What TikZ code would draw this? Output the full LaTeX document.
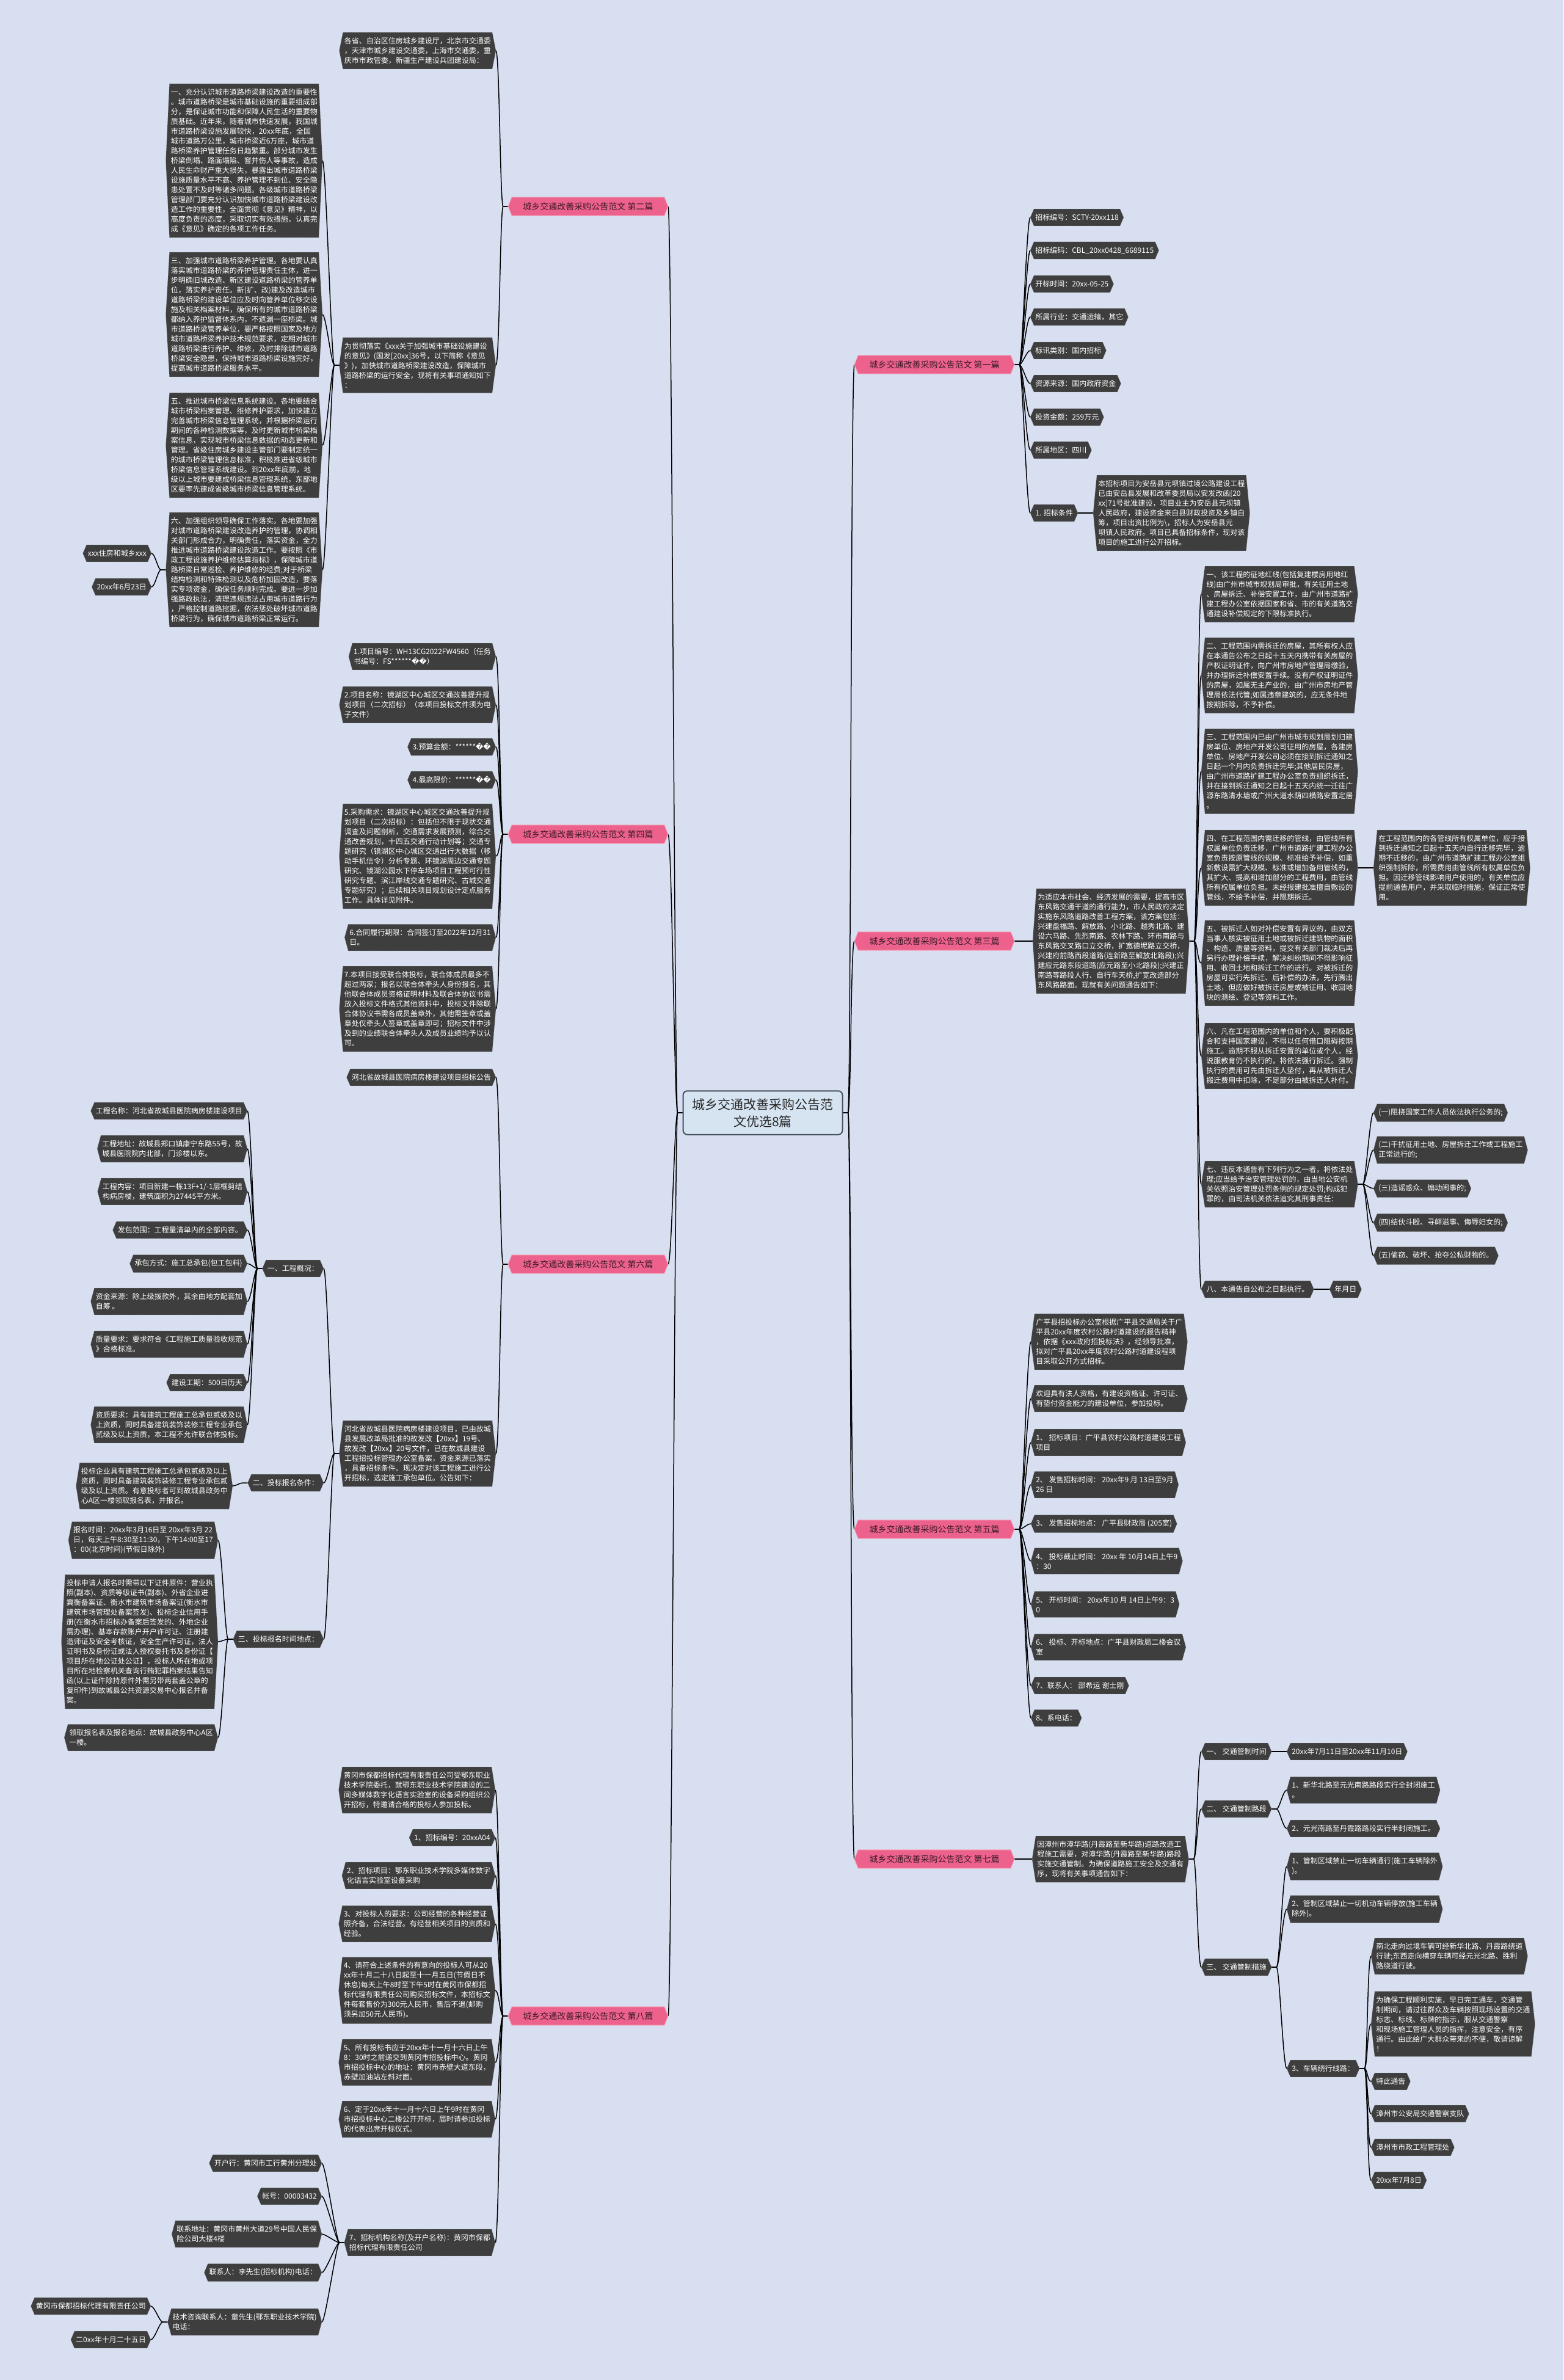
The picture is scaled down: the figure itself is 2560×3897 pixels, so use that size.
\documentclass[tikz,border=0pt]{standalone}
\usepackage{fontspec}
\setmainfont{Noto Sans CJK SC}
\newfontfamily\djv{DejaVu Sans}
\definecolor{bgc}{RGB}{215,223,241}
\definecolor{boxc}{RGB}{62,62,62}
\definecolor{boxb}{RGB}{150,150,150}
\definecolor{pinkc}{RGB}{236,98,140}
\definecolor{pinkb}{RGB}{246,168,192}
\definecolor{pinkt}{RGB}{60,25,40}
\definecolor{rootf}{RGB}{214,228,242}
\definecolor{rootb}{RGB}{70,80,92}
\makeatletter
\newdimen\hxL \newdimen\hxR \newdimen\hxT \newdimen\hxB \newdimen\hxM \newdimen\hxLi \newdimen\hxRi
\pgfdeclareshape{hexbox}{%
  \inheritsavedanchors[from=rectangle]%
  \inheritanchorborder[from=rectangle]%
  \inheritanchor[from=rectangle]{center}%
  \inheritanchor[from=rectangle]{mid}%
  \inheritanchor[from=rectangle]{base}%
  \inheritanchor[from=rectangle]{north}%
  \inheritanchor[from=rectangle]{south}%
  \inheritanchor[from=rectangle]{east}%
  \inheritanchor[from=rectangle]{west}%
  \inheritanchor[from=rectangle]{north east}%
  \inheritanchor[from=rectangle]{north west}%
  \inheritanchor[from=rectangle]{south east}%
  \inheritanchor[from=rectangle]{south west}%
  \backgroundpath{%
    \southwest \hxL=\pgf@x \hxB=\pgf@y
    \northeast \hxR=\pgf@x \hxT=\pgf@y
    \hxM=.5\hxB \advance\hxM by .5\hxT
    \hxLi=\hxL \advance\hxLi by 6pt
    \hxRi=\hxR \advance\hxRi by -6pt
    \pgfpathmoveto{\pgfqpoint{\hxL}{\hxM}}%
    \pgfpathlineto{\pgfqpoint{\hxLi}{\hxT}}%
    \pgfpathlineto{\pgfqpoint{\hxRi}{\hxT}}%
    \pgfpathlineto{\pgfqpoint{\hxR}{\hxM}}%
    \pgfpathlineto{\pgfqpoint{\hxRi}{\hxB}}%
    \pgfpathlineto{\pgfqpoint{\hxLi}{\hxB}}%
    \pgfpathclose
  }%
}
\makeatother
\pgfdeclarelayer{bgl}\pgfdeclarelayer{lines}\pgfsetlayers{bgl,lines,main}
\newcommand\fsN{\fontsize{12pt}{16pt}\selectfont}
\newcommand\fsP{\fontsize{14pt}{17pt}\selectfont}
\newcommand\fsC{\fontsize{21pt}{28pt}\selectfont}
\newcommand\rpc{{\djv ^^^^fffd}}
\tikzset{
  box/.style={shape=hexbox, fill=boxc, draw=boxb, line width=0.5pt, densely dotted, text=white, font=\fsN, align=left, inner xsep=8pt, inner ysep=8pt},
  pinkbox/.style={shape=hexbox, fill=pinkc, draw=pinkb, line width=1pt, text=pinkt, font=\fsP, inner xsep=24pt, inner ysep=8pt},
  rootbox/.style={rectangle, rounded corners=7pt, fill=rootf, draw=rootb, line width=2pt, text=black!85, font=\fsC, align=center, inner xsep=15pt, inner ysep=12pt},
  link/.style={draw=black, line width=1.5pt, solid},
}
\newcommand\bxl[4]{\node[box,anchor=east] (#1) at (#2,#3) {#4};}
\newcommand\bxr[4]{\node[box,anchor=west] (#1) at (#2,#3) {#4};}
\newcommand\lnk[2]{\draw[link] (#1.west) -- ++(-8,0) .. controls +(-5,0) and +(6,0) .. (#2.east);}
\newcommand\rnk[2]{\draw[link] (#1.east) -- ++(8,0) .. controls +(5,0) and +(-6,0) .. (#2.west);}
\begin{document}
\begin{tikzpicture}[x=1pt,y=-1pt]
\begin{pgfonlayer}{bgl}
\fill[bgc] (0,0) rectangle (2560,3897);
\end{pgfonlayer}
\useasboundingbox (0,0) rectangle (2560,3897);

\node[rootbox] (c) at (1249,1822) {城乡交通改善采购公告范\\文优选8篇};

% ---------- left pinks
\node[pinkbox,anchor=east] (p2) at (1094,338) {城乡交通改善采购公告范文 第二篇};
\node[pinkbox,anchor=east] (p4) at (1094,1366) {城乡交通改善采购公告范文 第四篇};
\node[pinkbox,anchor=east] (p6) at (1094,2070) {城乡交通改善采购公告范文 第六篇};
\node[pinkbox,anchor=east] (p8) at (1094,3301) {城乡交通改善采购公告范文 第八篇};
% ---------- right pinks
\node[pinkbox,anchor=west] (p1) at (1399,597) {城乡交通改善采购公告范文 第一篇};
\node[pinkbox,anchor=west] (p3) at (1399,1541) {城乡交通改善采购公告范文 第三篇};
\node[pinkbox,anchor=west] (p5) at (1399,2504) {城乡交通改善采购公告范文 第五篇};
\node[pinkbox,anchor=west] (p7) at (1399,3044) {城乡交通改善采购公告范文 第七篇};

% ---------- 第二篇
\bxl{f1}{812}{83}{各省、自治区住房城乡建设厅，北京市交通委\\，天津市城乡建设交通委，上海市交通委，重\\庆市市政管委，新疆生产建设兵团建设局：}
\bxl{f2}{812}{598}{为贯彻落实《xxx关于加强城市基础设施建设\\的意见》(国发[20xx]36号，以下简称《意见\\》)，加快城市道路桥梁建设改造，保障城市\\道路桥梁的运行安全，现将有关事项通知如下\\：}
\bxl{f3}{528}{263}{一、充分认识城市道路桥梁建设改造的重要性\\。城市道路桥梁是城市基础设施的重要组成部\\分，是保证城市功能和保障人民生活的重要物\\质基础。近年来，随着城市快速发展，我国城\\市道路桥梁设施发展较快，20xx年底，全国\\城市道路万公里，城市桥梁近6万座，城市道\\路桥梁养护管理任务日趋繁重。部分城市发生\\桥梁倒塌、路面塌陷、窨井伤人等事故，造成\\人民生命财产重大损失，暴露出城市道路桥梁\\设施质量水平不高、养护管理不到位、安全隐\\患处置不及时等诸多问题。各级城市道路桥梁\\管理部门要充分认识加快城市道路桥梁建设改\\造工作的重要性，全面贯彻《意见》精神，以\\高度负责的态度，采取切实有效措施，认真完\\成《意见》确定的各项工作任务。}
\bxl{f4}{528}{515}{三、加强城市道路桥梁养护管理。各地要认真\\落实城市道路桥梁的养护管理责任主体，进一\\步明确旧城改造、新区建设道路桥梁的管养单\\位，落实养护责任。新(扩、改)建及改造城市\\道路桥梁的建设单位应及时向管养单位移交设\\施及相关档案材料，确保所有的城市道路桥梁\\都纳入养护监督体系内，不遗漏一座桥梁。城\\市道路桥梁管养单位，要严格按照国家及地方\\城市道路桥梁养护技术规范要求，定期对城市\\道路桥梁进行养护、维修，及时排除城市道路\\桥梁安全隐患，保持城市道路桥梁设施完好，\\提高城市道路桥梁服务水平。}
\bxl{f5}{528}{729}{五、推进城市桥梁信息系统建设。各地要结合\\城市桥梁档案管理、维修养护要求，加快建立\\完善城市桥梁信息管理系统，并根据桥梁运行\\期间的各种检测数据等，及时更新城市桥梁档\\案信息，实现城市桥梁信息数据的动态更新和\\管理。省级住房城乡建设主管部门要制定统一\\的城市桥梁管理信息标准，积极推进省级城市\\桥梁信息管理系统建设。到20xx年底前，地\\级以上城市要建成桥梁信息管理系统，东部地\\区要率先建成省级城市桥梁信息管理系统。}
\bxl{f6}{528}{933}{六、加强组织领导确保工作落实。各地要加强\\对城市道路桥梁建设改造养护的管理，协调相\\关部门形成合力，明确责任，落实资金，全力\\推进城市道路桥梁建设改造工作。要按照《市\\政工程设施养护维修估算指标》，保障城市道\\路桥梁日常巡检、养护维修的经费;对于桥梁\\结构检测和特殊检测以及危桥加固改造，要落\\实专项资金，确保任务顺利完成。要进一步加\\强路政执法，清理违规违法占用城市道路行为\\，严格控制道路挖掘，依法惩处破坏城市道路\\桥梁行为，确保城市道路桥梁正常运行。}
\bxl{f7}{248}{906}{xxx住房和城乡xxx}
\bxl{f8}{248}{961}{20xx年6月23日}

% ---------- 第四篇
\bxl{g1}{812}{1075}{1.项目编号：WH13CG2022FW4560（任务\\书编号：FS******\rpc\rpc）}
\bxl{g2}{812}{1154}{2.项目名称：镜湖区中心城区交通改善提升规\\划项目（二次招标）（本项目投标文件须为电\\子文件）}
\bxl{g3}{812}{1223}{3.预算金额：******\rpc\rpc}
\bxl{g4}{812}{1277}{4.最高限价：******\rpc\rpc}
\bxl{g5}{812}{1402}{5.采购需求：镜湖区中心城区交通改善提升规\\划项目（二次招标）：包括但不限于现状交通\\调查及问题剖析，交通需求发展预测，综合交\\通改善规划，十四五交通行动计划等；交通专\\题研究（镜湖区中心城区交通出行大数据（移\\动手机信令）分析专题、环镜湖周边交通专题\\研究、镜湖公园水下停车场项目工程预可行性\\研究专题、滨江岸线交通专题研究、古城交通\\专题研究）；后续相关项目规划设计定点服务\\工作。具体详见附件。}
\bxl{g6}{812}{1535}{6.合同履行期限：合同签订至2022年12月31\\日。}
\bxl{g7}{812}{1652}{7.本项目接受联合体投标，联合体成员最多不\\超过两家；报名以联合体牵头人身份报名，其\\他联合体成员资格证明材料及联合体协议书需\\放入投标文件格式其他资料中，投标文件除联\\合体协议书需各成员盖章外，其他需签章或盖\\章处仅牵头人签章或盖章即可；招标文件中涉\\及到的业绩联合体牵头人及成员业绩均予以认\\可。}

% ---------- 第六篇
\bxl{h1}{812}{1764}{河北省故城县医院病房楼建设项目招标公告}
\bxl{h2}{812}{2380}{河北省故城县医院病房楼建设项目，已由故城\\县发展改革局批准的故发改【20xx】19号、\\故发改【20xx】20号文件，已在故城县建设\\工程招投标管理办公室备案，资金来源已落实\\，具备招标条件。现决定对该工程施工进行公\\开招标，选定施工承包单位。公告如下：}
\bxl{h21}{530}{2077}{一、工程概况：}
\bxl{h22}{530}{2428}{二、投标报名条件：}
\bxl{h23}{530}{2684}{三、投标报名时间地点：}
\bxl{q1}{405}{1819}{工程名称：河北省故城县医院病房楼建设项目}
\bxl{q2}{405}{1881}{工程地址：故城县郑口镇康宁东路55号，故\\城县医院院内北部，门诊楼以东。}
\bxl{q3}{405}{1951}{工程内容：项目新建一栋13F+1/-1层框剪结\\构病房楼，建筑面积为27445平方米。}
\bxl{q4}{405}{2014}{发包范围：工程量清单内的全部内容。}
\bxl{q5}{405}{2069}{承包方式：施工总承包(包工包料)}
\bxl{q6}{405}{2131}{资金来源：除上级拨款外，其余由地方配套加\\自筹 。}
\bxl{q7}{405}{2201}{质量要求：要求符合《工程施工质量验收规范\\》合格标准。}
\bxl{q8}{405}{2264}{建设工期：500日历天}
\bxl{q9}{405}{2333}{资质要求：具有建筑工程施工总承包贰级及以\\上资质，同时具备建筑装饰装修工程专业承包\\贰级及以上资质，本工程不允许联合体投标。}
\bxl{r1}{381}{2433}{投标企业具有建筑工程施工总承包贰级及以上\\资质，同时具备建筑装饰装修工程专业承包贰\\级及以上资质。有意投标者可到故城县政务中\\心A区一楼领取报名表，并报名。}
\bxl{s1}{357}{2522}{报名时间：20xx年3月16日至 20xx年3月 22\\日，每天上午8:30至11:30，下午14:00至17\\：00(北京时间)(节假日除外)}
\bxl{s2}{357}{2688}{投标申请人报名时需带以下证件原件：营业执\\照(副本)、资质等级证书(副本)、外省企业进\\冀衡备案证、衡水市建筑市场备案证(衡水市\\建筑市场管理处备案签发)、投标企业信用手\\册(在衡水市招标办备案后签发的、外地企业\\需办理)、基本存款账户开户许可证、注册建\\造师证及安全考核证，安全生产许可证，法人\\证明书及身份证或法人授权委托书及身份证【\\项目所在地公证处公证】，投标人所在地或项\\目所在地检察机关查询行贿犯罪档案结果告知\\函(以上证件除持原件外需另带两套盖公章的\\复印件)到故城县公共资源交易中心报名并备\\案。}
\bxl{s3}{357}{2845}{领取报名表及报名地点：故城县政务中心A区\\一楼。}

% ---------- 第八篇
\bxl{i1}{811}{2931}{黄冈市保都招标代理有限责任公司受鄂东职业\\技术学院委托，就鄂东职业技术学院建设的二\\间多媒体数字化语言实验室的设备采购组织公\\开招标，特邀请合格的投标人参加投标。}
\bxl{i2}{811}{3009}{1、招标编号：20xxA04}
\bxl{i3}{811}{3071}{2、招标项目：鄂东职业技术学院多媒体数字\\化语言实验室设备采购}
\bxl{i4}{811}{3150}{3、对投标人的要求：公司经营的各种经营证\\照齐备，合法经营。有经营相关项目的资质和\\经验。}
\bxl{i5}{811}{3259}{4、请符合上述条件的有意向的投标人可从20\\xx年十月二十八日起至十一月五日(节假日不\\休息)每天上午8时至下午5时在黄冈市保都招\\标代理有限责任公司购买招标文件，本招标文\\件每套售价为300元人民币，售后不退(邮购\\须另加50元人民币)。}
\bxl{i6}{811}{3377}{5、所有投标书应于20xx年十一月十六日上午\\8：30时之前递交到黄冈市招投标中心。黄冈\\市招投标中心的地址：黄冈市赤壁大道东段，\\赤壁加油站左斜对面。}
\bxl{i7}{811}{3470}{6、定于20xx年十一月十六日上午9时在黄冈\\市招投标中心二楼公开开标，届时请参加投标\\的代表出席开标仪式。}
\bxl{i8}{811}{3672}{7、招标机构名称(及开户名称)：黄冈市保都\\招标代理有限责任公司}
\bxl{j1}{527}{3542}{开户行：黄冈市工行黄州分理处}
\bxl{j2}{527}{3596}{帐号：00003432}
\bxl{j3}{527}{3658}{联系地址：黄冈市黄州大道29号中国人民保\\险公司大楼4楼}
\bxl{j4}{527}{3721}{联系人：李先生(招标机构)电话：}
\bxl{j5}{527}{3802}{技术咨询联系人：童先生(鄂东职业技术学院)\\电话：}
\bxl{k1}{247}{3776}{黄冈市保都招标代理有限责任公司}
\bxl{k2}{247}{3831}{二0xx年十月二十五日}

% ---------- 第一篇
\bxr{a1}{1687}{356}{招标编号：SCTY-20xx118}
\bxr{a2}{1687}{410}{招标编码：CBL\_20xx0428\_6689115}
\bxr{a3}{1687}{465}{开标时间：20xx-05-25}
\bxr{a4}{1687}{519}{所属行业：交通运输，其它}
\bxr{a5}{1687}{574}{标讯类别：国内招标}
\bxr{a6}{1687}{628}{资源来源：国内政府资金}
\bxr{a7}{1687}{683}{投资金额：259万元}
\bxr{a8}{1687}{737}{所属地区：四川}
\bxr{a9}{1687}{840}{1. 招标条件}
\bxr{a10}{1790}{840}{本招标项目为安岳县元坝镇过境公路建设工程\\已由安岳县发展和改革委员局以安发改函[20\\xx]71号批准建设，项目业主为安岳县元坝镇\\人民政府，建设资金来自县财政投资及乡镇自\\筹，项目出资比例为\textbackslash，招标人为安岳县元\\坝镇人民政府。项目已具备招标条件，现对该\\项目的施工进行公开招标。}

% ---------- 第三篇
\bxr{b0}{1691}{1541}{为适应本市社会、经济发展的需要，提高市区\\东风路交通干道的通行能力，市人民政府决定\\实施东风路道路改善工程方案，该方案包括：\\兴建盘福路、解放路、小北路、越秀北路、建\\设六马路、先烈南路、农林下路、环市南路与\\东风路交叉路口立交桥，扩宽德坭路立交桥，\\兴建府前路西段道路(连新路至解放北路段);兴\\建应元路东段道路(应元路至小北路段);兴建正\\南路等路段人行、自行车天桥,扩宽改造部分\\东风路路面。现就有关问题通告如下：}
\bxr{b1}{1967}{973}{一、该工程的征地红线(包括复建楼房用地红\\线)由广州市城市规划局审批，有关征用土地\\、房屋拆迁、补偿安置工作，由广州市道路扩\\建工程办公室依据国家和省、市的有关道路交\\通建设补偿规定的下限标准执行。}
\bxr{b2}{1967}{1106}{二、工程范围内需拆迁的房屋，其所有权人应\\在本通告公布之日起十五天内携带有关房屋的\\产权证明证件，向广州市房地产管理局缴验，\\并办理拆迁补偿安置手续。没有产权证明证件\\的房屋，如属无主产业的，由广州市房地产管\\理局依法代管;如属违章建筑的，应无条件地\\按期拆除，不予补偿。}
\bxr{b3}{1967}{1263}{三、工程范围内已由广州市城市规划局划归建\\房单位、房地产开发公司征用的房屋，各建房\\单位、房地产开发公司必须在接到拆迁通知之\\日起一个月内负责拆迁完毕;其他居民房屋，\\由广州市道路扩建工程办公室负责组织拆迁，\\并在接到拆迁通知之日起十五天内统一迁往广\\源东路清水塘或广州大道水荫四横路安置定居\\。}
\bxr{b4}{1967}{1421}{四、在工程范围内需迁移的管线，由管线所有\\权属单位负责迁移，广州市道路扩建工程办公\\室负责按原管线的规模、标准给予补偿，如重\\新敷设需扩大规模、标准或增加备用管线的，\\其扩大、提高和增加部分的工程费用，由管线\\所有权属单位负担。未经报建批准擅自敷设的\\管线，不给予补偿，并限期拆迁。}
\bxr{b4a}{2249}{1421}{在工程范围内的各管线所有权属单位，应于接\\到拆迁通知之日起十五天内自行迁移完毕，逾\\期不迁移的，由广州市道路扩建工程办公室组\\织强制拆除，所需费用由管线所有权属单位负\\担。因迁移管线影响用户使用的，有关单位应\\提前通告用户，并采取临时措施，保证正常使\\用。}
\bxr{b5}{1967}{1577}{五、被拆迁人如对补偿安置有异议的，由双方\\当事人核实被征用土地或被拆迁建筑物的面积\\、构造、质量等资料，提交有关部门裁决后再\\另行办理补偿手续，解决纠纷期间不得影响征\\用、收回土地和拆迁工作的进行。对被拆迁的\\房屋可实行先拆迁、后补偿的办法，先行腾出\\土地，但应做好被拆迁房屋或被征用、收回地\\块的测绘、登记等资料工作。}
\bxr{b6}{1967}{1729}{六、凡在工程范围内的单位和个人，要积极配\\合和支持国家建设，不得以任何借口阻碍按期\\施工。逾期不服从拆迁安置的单位或个人，经\\说服教育仍不执行的，将依法强行拆迁。强制\\执行的费用可先由拆迁人垫付，再从被拆迁人\\搬迁费用中扣除，不足部分由被拆迁人补付。}
\bxr{b7}{1967}{1939}{七、违反本通告有下列行为之一者，将依法处\\理;应当给予治安管理处罚的，由当地公安机\\关依照治安管理处罚条例的规定处罚;构成犯\\罪的，由司法机关依法追究其刑事责任：}
\bxr{b8}{1967}{2111}{八、本通告自公布之日起执行。}
\bxr{b8a}{2177}{2111}{年月日}
\bxr{t1}{2249}{1822}{(一)阻挠国家工作人员依法执行公务的;}
\bxr{t2}{2249}{1883}{(二)干扰征用土地、房屋拆迁工作或工程施工\\正常进行的;}
\bxr{t3}{2249}{1946}{(三)造谣惑众、煽动闹事的;}
\bxr{t4}{2249}{2002}{(四)结伙斗殴、寻衅滋事、侮辱妇女的;}
\bxr{t5}{2249}{2056}{(五)偷窃、破坏、抢夺公私财物的。}

% ---------- 第五篇
\bxr{c1}{1688}{2197}{广平县招投标办公室根据广平县交通局关于广\\平县20xx年度农村公路村道建设的报告精神\\，依据《xxx政府招投标法》，经领导批准，\\拟对广平县20xx年度农村公路村道建设程项\\目采取公开方式招标。}
\bxr{c2}{1688}{2290}{欢迎具有法人资格，有建设资格证、许可证、\\有垫付资金能力的建设单位，参加投标。}
\bxr{c3}{1688}{2362}{1、 招标项目：广平县农村公路村道建设工程\\项目}
\bxr{c4}{1688}{2431}{2、 发售招标时间： 20xx年9 月 13日至9月\\26 日}
\bxr{c5}{1688}{2495}{3、 发售招标地点： 广平县财政局 (205室)}
\bxr{c6}{1688}{2556}{4、 投标截止时间： 20xx 年 10月14日上午9\\：30}
\bxr{c7}{1688}{2627}{5、 开标时间： 20xx年10 月 14日上午9：3\\0}
\bxr{c8}{1688}{2697}{6、 投标、开标地点：广平县财政局二楼会议\\室}
\bxr{c9}{1688}{2760}{7、联系人： 邵希运 谢士刚}
\bxr{c10}{1688}{2813}{8、系电话：}

% ---------- 第七篇
\bxr{d0}{1690}{3044}{因漳州市漳华路(丹霞路至新华路)道路改造工\\程施工需要，对漳华路(丹霞路至新华路)路段\\实施交通管制。为确保道路施工安全及交通有\\序，现将有关事项通告如下：}
\bxr{d1}{1967}{2868}{一、 交通管制时间}
\bxr{d2}{1967}{2962}{二、 交通管制路段}
\bxr{d3}{1967}{3221}{三、 交通管制措施}
\bxr{d1a}{2107}{2868}{20xx年7月11日至20xx年11月10日}
\bxr{d2a}{2107}{2931}{1、新华北路至元光南路路段实行全封闭施工\\。}
\bxr{d2b}{2107}{2994}{2、元光南路至丹霞路路段实行半封闭施工。}
\bxr{d3a}{2107}{3056}{1、管制区域禁止一切车辆通行(施工车辆除外\\)。}
\bxr{d3b}{2107}{3126}{2、管制区域禁止一切机动车辆停放(施工车辆\\除外)。}
\bxr{d3c}{2107}{3387}{3、车辆绕行线路：}
\bxr{e1}{2245}{3203}{南北走向过境车辆可经新华北路、丹霞路绕道\\行驶;东西走向横穿车辆可经元光北路、胜利\\路绕道行驶。}
\bxr{e2}{2245}{3314}{为确保工程顺利实施，早日完工通车，交通管\\制期间，请过往群众及车辆按照现场设置的交通\\标志、标线、标牌的指示，服从交通警察\\和现场施工管理人员的指挥，注意安全，有序\\通行。由此给广大群众带来的不便，敬请谅解\\！}
\bxr{e3}{2245}{3408}{特此通告}
\bxr{e4}{2245}{3461}{漳州市公安局交通警察支队}
\bxr{e5}{2245}{3516}{漳州市市政工程管理处}
\bxr{e6}{2245}{3570}{20xx年7月8日}

\begin{pgfonlayer}{lines}
\foreach \x in {p2,p4,p6,p8} {\lnk{c}{\x}}
\foreach \x in {p1,p3,p5,p7} {\rnk{c}{\x}}
\foreach \x in {f1,f2} {\lnk{p2}{\x}}
\foreach \x in {f3,f4,f5,f6} {\lnk{f2}{\x}}
\foreach \x in {f7,f8} {\lnk{f6}{\x}}
\foreach \x in {g1,g2,g3,g4,g5,g6,g7} {\lnk{p4}{\x}}
\foreach \x in {h1,h2} {\lnk{p6}{\x}}
\foreach \x in {h21,h22,h23} {\lnk{h2}{\x}}
\foreach \x in {q1,q2,q3,q4,q5,q6,q7,q8,q9} {\lnk{h21}{\x}}
\lnk{h22}{r1}
\foreach \x in {s1,s2,s3} {\lnk{h23}{\x}}
\foreach \x in {i1,i2,i3,i4,i5,i6,i7,i8} {\lnk{p8}{\x}}
\foreach \x in {j1,j2,j3,j4,j5} {\lnk{i8}{\x}}
\foreach \x in {k1,k2} {\lnk{j5}{\x}}
\foreach \x in {a1,a2,a3,a4,a5,a6,a7,a8,a9} {\rnk{p1}{\x}}
\rnk{a9}{a10}
\rnk{p3}{b0}
\foreach \x in {b1,b2,b3,b4,b5,b6,b7,b8} {\rnk{b0}{\x}}
\rnk{b4}{b4a}
\rnk{b8}{b8a}
\foreach \x in {t1,t2,t3,t4,t5} {\rnk{b7}{\x}}
\foreach \x in {c1,c2,c3,c4,c5,c6,c7,c8,c9,c10} {\rnk{p5}{\x}}
\rnk{p7}{d0}
\foreach \x in {d1,d2,d3} {\rnk{d0}{\x}}
\rnk{d1}{d1a}
\foreach \x in {d2a,d2b} {\rnk{d2}{\x}}
\foreach \x in {d3a,d3b,d3c} {\rnk{d3}{\x}}
\foreach \x in {e1,e2,e3,e4,e5,e6} {\rnk{d3c}{\x}}
\end{pgfonlayer}
\end{tikzpicture}
\end{document}
